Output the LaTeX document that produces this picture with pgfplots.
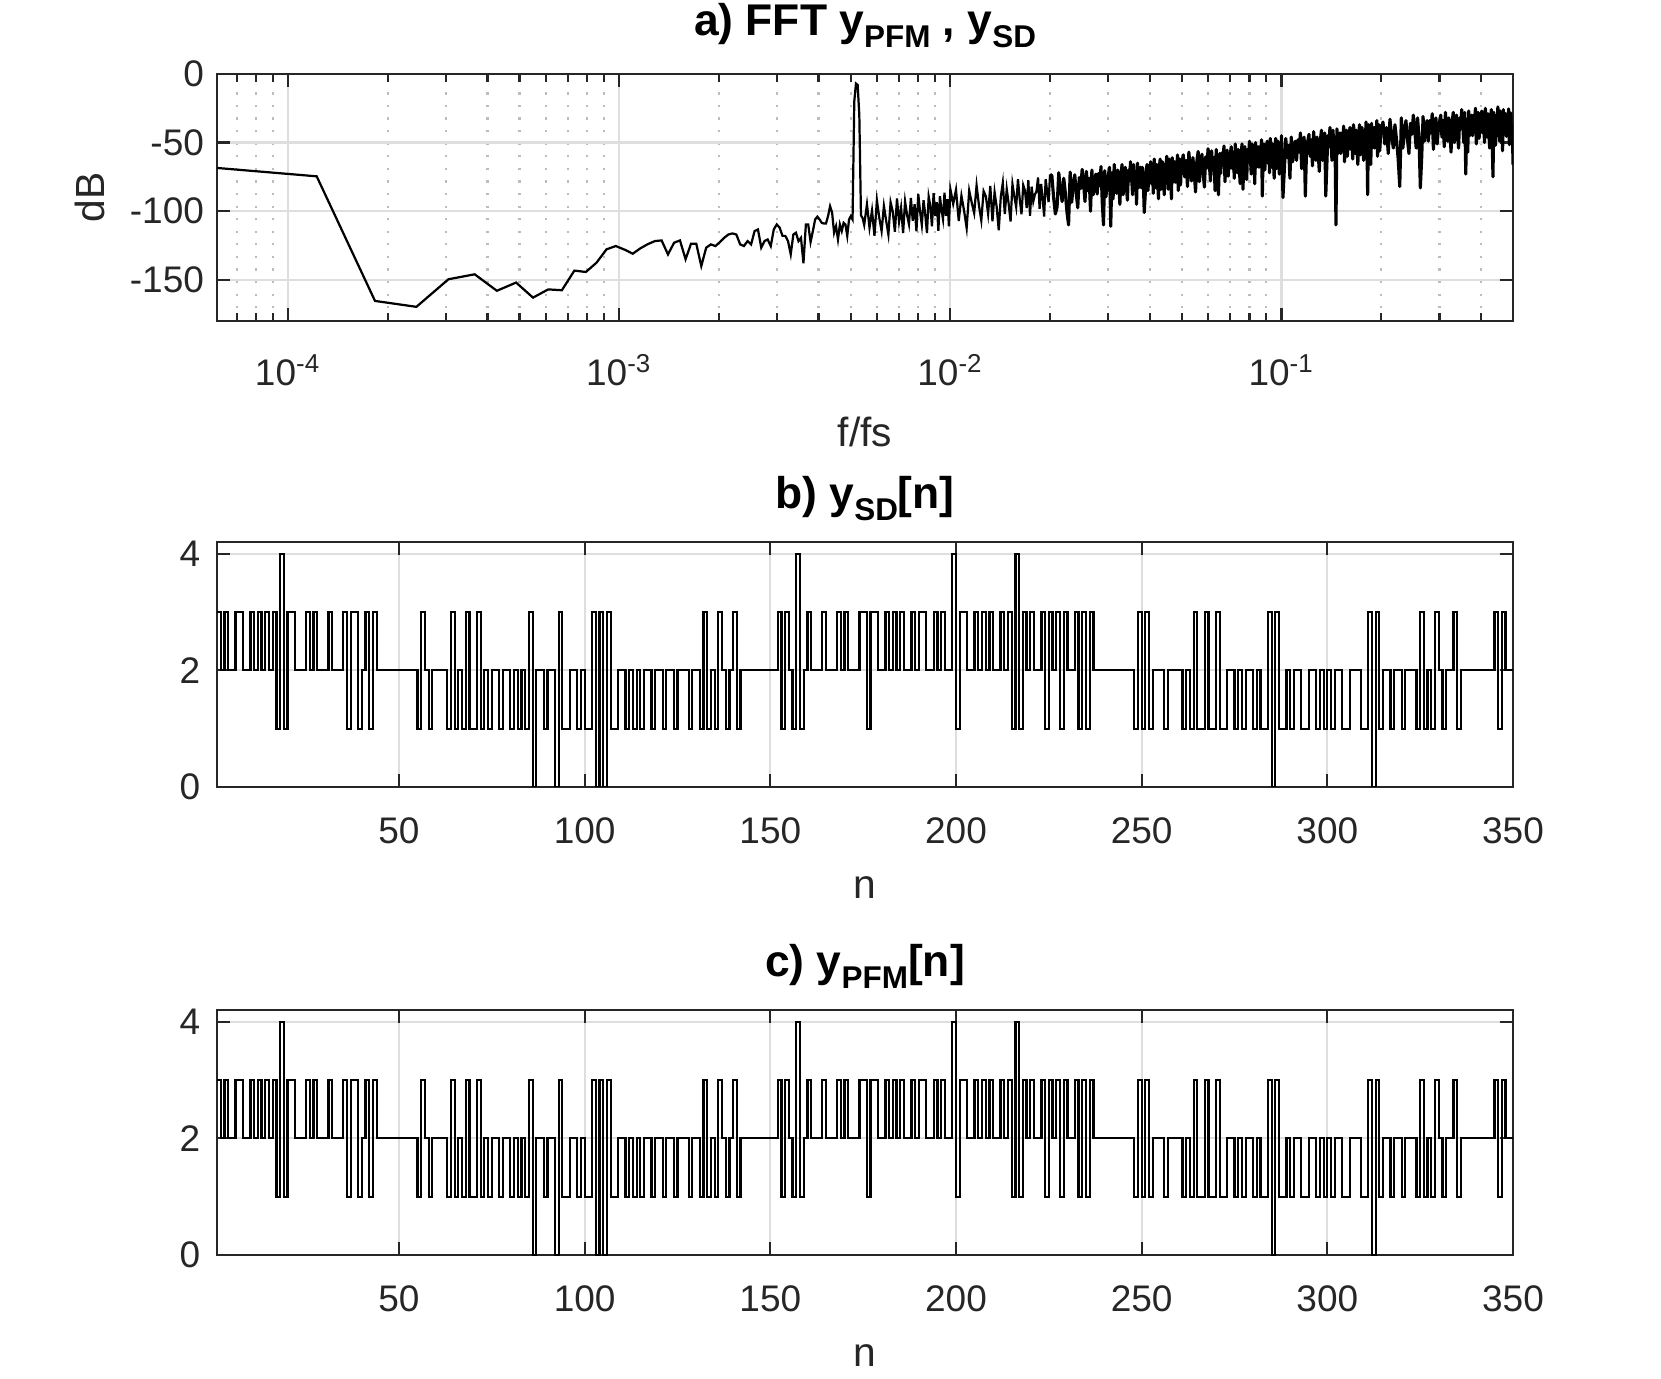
\documentclass[border=0pt]{standalone}
\usepackage{fontspec}
\setmainfont{Liberation Sans}
\usepackage{pgfplots}
\usepackage{pgfplotstable}
\pgfplotsset{compat=1.18}

\definecolor{axcol}{HTML}{262626}
\definecolor{gridcol}{HTML}{DEDEDE}
\definecolor{mgridcol}{HTML}{BDBDBD}

\newcommand{\sub}[1]{\raisebox{-3.2pt}{\fontsize{8.5}{9}\selectfont #1}}

% y_SD[n] = y_PFM[n], n = 1..350
\pgfplotstableread[row sep=\\]{
n v\\
1 3\\ 2 2\\ 3 3\\ 4 2\\ 5 2\\ 6 3\\ 7 3\\ 8 2\\ 9 2\\ 10 3\\
11 2\\ 12 3\\ 13 2\\ 14 3\\ 15 2\\ 16 3\\ 17 1\\ 18 4\\ 19 1\\ 20 3\\
21 3\\ 22 2\\ 23 2\\ 24 2\\ 25 3\\ 26 2\\ 27 3\\ 28 2\\ 29 2\\ 30 2\\
31 3\\ 32 2\\ 33 2\\ 34 2\\ 35 3\\ 36 1\\ 37 3\\ 38 3\\ 39 1\\ 40 2\\
41 3\\ 42 1\\ 43 3\\ 44 2\\ 45 2\\ 46 2\\ 47 2\\ 48 2\\ 49 2\\ 50 2\\
51 2\\ 52 2\\ 53 2\\ 54 2\\ 55 1\\ 56 3\\ 57 2\\ 58 1\\ 59 2\\ 60 2\\
61 2\\ 62 2\\ 63 1\\ 64 3\\ 65 1\\ 66 2\\ 67 1\\ 68 3\\ 69 1\\ 70 1\\
71 3\\ 72 1\\ 73 2\\ 74 1\\ 75 2\\ 76 2\\ 77 1\\ 78 2\\ 79 2\\ 80 1\\
81 2\\ 82 1\\ 83 2\\ 84 1\\ 85 3\\ 86 0\\ 87 2\\ 88 2\\ 89 1\\ 90 2\\
91 2\\ 92 0\\ 93 3\\ 94 1\\ 95 1\\ 96 2\\ 97 2\\ 98 1\\ 99 2\\ 100 1\\
101 1\\ 102 3\\ 103 0\\ 104 3\\ 105 0\\ 106 3\\ 107 1\\ 108 1\\ 109 2\\ 110 2\\
111 1\\ 112 2\\ 113 1\\ 114 2\\ 115 1\\ 116 2\\ 117 2\\ 118 1\\ 119 2\\ 120 2\\
121 1\\ 122 2\\ 123 2\\ 124 1\\ 125 2\\ 126 2\\ 127 2\\ 128 1\\ 129 2\\ 130 2\\
131 1\\ 132 3\\ 133 1\\ 134 2\\ 135 1\\ 136 3\\ 137 2\\ 138 1\\ 139 2\\ 140 3\\
141 1\\ 142 2\\ 143 2\\ 144 2\\ 145 2\\ 146 2\\ 147 2\\ 148 2\\ 149 2\\ 150 2\\
151 2\\ 152 3\\ 153 1\\ 154 3\\ 155 2\\ 156 1\\ 157 4\\ 158 1\\ 159 2\\ 160 3\\
161 2\\ 162 2\\ 163 2\\ 164 3\\ 165 2\\ 166 2\\ 167 2\\ 168 3\\ 169 2\\ 170 3\\
171 2\\ 172 2\\ 173 2\\ 174 3\\ 175 3\\ 176 1\\ 177 3\\ 178 3\\ 179 2\\ 180 2\\
181 3\\ 182 2\\ 183 3\\ 184 2\\ 185 3\\ 186 2\\ 187 2\\ 188 3\\ 189 2\\ 190 3\\
191 3\\ 192 2\\ 193 2\\ 194 3\\ 195 2\\ 196 3\\ 197 2\\ 198 2\\ 199 4\\ 200 1\\
201 3\\ 202 3\\ 203 2\\ 204 2\\ 205 3\\ 206 2\\ 207 3\\ 208 2\\ 209 3\\ 210 2\\
211 2\\ 212 3\\ 213 2\\ 214 3\\ 215 1\\ 216 4\\ 217 1\\ 218 3\\ 219 2\\ 220 3\\
221 2\\ 222 2\\ 223 3\\ 224 1\\ 225 3\\ 226 2\\ 227 3\\ 228 1\\ 229 3\\ 230 2\\
231 2\\ 232 3\\ 233 1\\ 234 3\\ 235 1\\ 236 3\\ 237 2\\ 238 2\\ 239 2\\ 240 2\\
241 2\\ 242 2\\ 243 2\\ 244 2\\ 245 2\\ 246 2\\ 247 2\\ 248 1\\ 249 3\\ 250 1\\
251 3\\ 252 1\\ 253 2\\ 254 2\\ 255 2\\ 256 1\\ 257 2\\ 258 2\\ 259 2\\ 260 2\\
261 1\\ 262 2\\ 263 1\\ 264 3\\ 265 1\\ 266 1\\ 267 3\\ 268 1\\ 269 1\\ 270 3\\
271 1\\ 272 1\\ 273 2\\ 274 2\\ 275 1\\ 276 2\\ 277 1\\ 278 2\\ 279 2\\ 280 1\\
281 2\\ 282 1\\ 283 1\\ 284 3\\ 285 0\\ 286 3\\ 287 1\\ 288 1\\ 289 2\\ 290 1\\
291 2\\ 292 2\\ 293 1\\ 294 1\\ 295 2\\ 296 2\\ 297 1\\ 298 2\\ 299 1\\ 300 2\\
301 1\\ 302 2\\ 303 2\\ 304 1\\ 305 1\\ 306 2\\ 307 2\\ 308 2\\ 309 1\\ 310 1\\
311 3\\ 312 0\\ 313 3\\ 314 1\\ 315 2\\ 316 2\\ 317 1\\ 318 2\\ 319 2\\ 320 1\\
321 2\\ 322 2\\ 323 2\\ 324 1\\ 325 3\\ 326 1\\ 327 2\\ 328 1\\ 329 3\\ 330 2\\
331 1\\ 332 2\\ 333 2\\ 334 3\\ 335 1\\ 336 2\\ 337 2\\ 338 2\\ 339 2\\ 340 2\\
341 2\\ 342 2\\ 343 2\\ 344 2\\ 345 3\\ 346 1\\ 347 3\\ 348 2\\ 349 2\\ 350 2\\
}\seqdata

% spectrum, f/fs and dB: low part (sparse bins)
\pgfplotstableread[row sep=\\]{
f db\\
6.1035e-5 -68.5\\ 1.2207e-4 -74.6\\ 1.8311e-4 -165.4\\ 2.4414e-4 -169.7\\ 3.0518e-4 -149.6\\ 3.6621e-4 -146\\ 4.2725e-4 -158\\ 4.8828e-4 -152\\ 5.4932e-4 -163\\ 6.1035e-4 -157\\
6.7139e-4 -157.6\\ 7.3242e-4 -143.3\\ 7.9346e-4 -144.3\\ 8.5449e-4 -137.5\\ 9.1553e-4 -127.8\\ 9.7656e-4 -125.4\\ 1.0376e-3 -128\\ 1.0986e-3 -131\\ 1.1597e-3 -127\\ 1.2207e-3 -124\\
1.2817e-3 -121.8\\ 1.3428e-3 -121.3\\ 1.4038e-3 -131.5\\ 1.4648e-3 -123\\ 1.5259e-3 -121.3\\ 1.5869e-3 -135\\ 1.6479e-3 -123.7\\ 1.7090e-3 -123.7\\ 1.7700e-3 -140\\ 1.8311e-3 -126.6\\
1.8921e-3 -124.2\\ 1.9531e-3 -125.4\\ 2.0142e-3 -122.5\\ 2.0752e-3 -119.4\\ 2.1362e-3 -117\\ 2.1973e-3 -116.2\\ 2.2583e-3 -117\\ 2.3193e-3 -124.2\\ 2.3804e-3 -125.4\\ 2.4414e-3 -121.8\\
2.5024e-3 -124.2\\ 2.5635e-3 -114.5\\ 2.6245e-3 -113.3\\ 2.6855e-3 -126.6\\ 2.7466e-3 -121.8\\ 2.8076e-3 -120.6\\ 2.8687e-3 -125.4\\ 2.9297e-3 -113.3\\ 2.9907e-3 -109.7\\ 3.0518e-3 -112\\
3.1128e-3 -118\\ 3.1738e-3 -118\\ 3.2349e-3 -121.8\\ 3.2959e-3 -131.5\\ 3.3569e-3 -117\\ 3.4180e-3 -115.7\\ 3.4790e-3 -121.8\\ 3.5400e-3 -119.4\\ 3.6011e-3 -138\\ 3.6621e-3 -109.7\\
3.7231e-3 -109.7\\ 3.7842e-3 -122.5\\ 3.8452e-3 -114.5\\ 3.9063e-3 -106\\ 3.9673e-3 -104\\ 4.0283e-3 -106\\ 4.0894e-3 -108.5\\ 4.1504e-3 -109\\ 4.2114e-3 -109\\ 4.2725e-3 -103.6\\
4.3335e-3 -96.4\\ 4.3945e-3 -101\\ 4.4556e-3 -115.7\\ 4.5166e-3 -111\\ 4.5776e-3 -120.6\\ 4.6387e-3 -109.7\\ 4.6997e-3 -114.5\\ 4.7607e-3 -108.5\\ 4.8218e-3 -109.7\\ 4.8828e-3 -118\\
4.9438e-3 -106\\ 5.0049e-3 -103.6\\ 5.0659e-3 -106\\ 5.1270e-3 -20\\ 5.1880e-3 -7\\ 5.2490e-3 -8\\ 5.3101e-3 -30\\ 5.3711e-3 -103\\ 5.4321e-3 -105\\ 5.4932e-3 -110\\
0.0056 -95\\ 0.0057 -112\\ 0.0058 -99.5\\ 0.0059 -118\\ 0.0060 -92\\ 0.0061 -104.7\\ 0.0062 -114.5\\ 0.0063 -96.2\\ 0.0064 -107\\ 0.0065 -117\\
0.0066 -93.5\\ 0.0067 -100.3\\ 0.0068 -115\\ 0.0069 -90.8\\ 0.0070 -107.6\\ 0.0071 -97.4\\ 0.0072 -116\\ 0.0073 -92.9\\ 0.0074 -102.7\\ 0.0075 -109.5\\
0.0076 -90.3\\ 0.0077 -107\\ 0.0078 -95\\ 0.0079 -114.7\\ 0.0080 -87.5\\ 0.0081 -100.3\\ 0.0082 -110\\ 0.0083 -92\\ 0.0084 -102.7\\ 0.0085 -116\\
0.0086 -89.4\\ 0.0087 -96.2\\ 0.0088 -111\\ 0.0089 -86.8\\ 0.0090 -103.6\\ 0.0091 -93.4\\ 0.0092 -114.3\\ 0.0093 -89.1\\ 0.0094 -98.9\\ 0.0095 -105.7\\
0.0096 -86.6\\ 0.0097 -103.4\\ 0.0098 -91.3\\ 0.0099 -111.1\\ 0.0100 -84\\
0.0102 -94.7\\ 0.0104 -84.4\\ 0.0106 -107.1\\ 0.0108 -88.8\\ 0.0110 -99.6\\ 0.0112 -112.3\\ 0.0114 -85\\ 0.0116 -93.7\\ 0.0118 -101.4\\ 0.0120 -81.2\\
0.0122 -95.9\\ 0.0124 -106.7\\ 0.0126 -85.4\\ 0.0128 -89.2\\ 0.0130 -101.9\\ 0.0132 -81.7\\ 0.0134 -107.4\\ 0.0136 -86.2\\ 0.0138 -96.9\\ 0.0140 -114\\
0.0142 -89.5\\ 0.0144 -79.3\\ 0.0146 -102.1\\ 0.0148 -83.9\\ 0.0150 -94.7\\ 0.0152 -107.5\\ 0.0154 -80.3\\ 0.0156 -89.1\\ 0.0158 -96.9\\ 0.0160 -76.7\\
0.0162 -91.5\\ 0.0164 -102.3\\ 0.0166 -81.1\\ 0.0168 -84.9\\ 0.0170 -97.7\\ 0.0172 -77.5\\ 0.0174 -103.3\\ 0.0176 -82.1\\ 0.0178 -92.9\\ 0.0180 -87.8\\
0.0182 -85.6\\ 0.0184 -75.5\\ 0.0186 -98.3\\ 0.0188 -80.2\\ 0.0190 -91\\ 0.0192 -103.9\\ 0.0194 -76.7\\ 0.0196 -85.6\\ 0.0198 -93.4\\ 0.0200 -73.2\\
}\fftlow

% spectrum: dense part
\pgfplotstableread[row sep=\\]{
f db\\
0.0200 -73.2\\
0.02025 -74\\ 0.0205 -90\\ 0.02075 -102\\ 0.021 -97\\ 0.02125 -72\\ 0.0215 -84\\ 0.02175 -93\\ 0.022 -76\\ 0.02225 -87\\ 0.0225 -101\\
0.02275 -110\\ 0.023 -71.5\\ 0.02325 -93.5\\ 0.0235 -80.5\\ 0.02375 -73.5\\ 0.024 -87.5\\ 0.02425 -97.5\\ 0.0245 -75.5\\ 0.02475 -83.5\\ 0.025 -69.5\\
0.02525 -80\\ 0.0255 -93\\ 0.02575 -71\\ 0.026 -85\\ 0.02625 -76\\ 0.0265 -100\\ 0.02675 -70\\ 0.027 -88\\ 0.02725 -78\\ 0.0275 -73\\
0.02775 -87.5\\ 0.028 -72.5\\ 0.02825 -81.5\\ 0.0285 -67.5\\ 0.02875 -93.5\\ 0.029 -110\\ 0.02925 -70.5\\ 0.0295 -89.5\\ 0.02975 -79.5\\ 0.030 -73.5\\
0.03025 -68\\ 0.0305 -111\\ 0.03075 -72\\ 0.031 -91\\ 0.03125 -66\\ 0.0315 -78\\ 0.03175 -87\\ 0.032 -70\\ 0.03225 -81\\ 0.0325 -95\\
0.03275 -73\\ 0.033 -66\\ 0.03325 -88\\ 0.0335 -75\\ 0.03375 -68\\ 0.034 -82\\ 0.03425 -92\\ 0.0345 -70\\ 0.03475 -78\\ 0.035 -64\\
0.03525 -75\\ 0.0355 -88\\ 0.03575 -66\\ 0.036 -80\\ 0.03625 -71\\ 0.0365 -95\\ 0.03675 -65\\ 0.037 -83\\ 0.03725 -73\\ 0.0375 -68\\
0.03775 -83\\ 0.038 -68\\ 0.03825 -77\\ 0.0385 -101\\ 0.03875 -89\\ 0.039 -71\\ 0.03925 -66\\ 0.0395 -85\\ 0.03975 -75\\ 0.040 -69\\
0.04025 -64\\ 0.0405 -80\\ 0.04075 -68\\ 0.041 -87\\ 0.04125 -62\\ 0.0415 -74\\ 0.04175 -83\\ 0.042 -66\\ 0.04225 -77\\ 0.0425 -91\\
0.04275 -69\\ 0.043 -62\\ 0.04325 -84\\ 0.0435 -71\\ 0.04375 -64\\ 0.044 -78\\ 0.04425 -88\\ 0.0445 -66\\ 0.04475 -74\\ 0.045 -60\\
0.04525 -71\\ 0.0455 -84\\ 0.04575 -62\\ 0.046 -76\\ 0.04625 -67\\ 0.0465 -91\\ 0.04675 -61\\ 0.047 -79\\ 0.04725 -69\\ 0.0475 -64\\
0.04775 -79\\ 0.048 -64\\ 0.04825 -73\\ 0.0485 -59\\ 0.04875 -85\\ 0.049 -67\\ 0.04925 -62\\ 0.0495 -81\\ 0.04975 -71\\ 0.050 -65\\
0.0505 -59\\ 0.051 -75\\ 0.0515 -63\\ 0.052 -82\\ 0.0525 -57\\ 0.053 -69\\ 0.0535 -78\\ 0.054 -61\\ 0.0545 -72\\ 0.055 -86\\
0.0555 -63.5\\ 0.056 -56.5\\ 0.0565 -78.5\\ 0.057 -65.5\\ 0.0575 -58.5\\ 0.058 -72.5\\ 0.0585 -82.5\\ 0.059 -60.5\\ 0.0595 -68.5\\ 0.060 -54.5\\
0.0605 -65\\ 0.061 -78\\ 0.0615 -56\\ 0.062 -70\\ 0.0625 -61\\ 0.063 -85\\ 0.0635 -55\\ 0.064 -73\\ 0.0645 -88\\ 0.065 -58\\
0.0655 -72.5\\ 0.066 -57.5\\ 0.0665 -66.5\\ 0.067 -52.5\\ 0.0675 -78.5\\ 0.068 -60.5\\ 0.0685 -55.5\\ 0.069 -74.5\\ 0.0695 -64.5\\ 0.070 -58.5\\
0.0705 -53\\ 0.071 -69\\ 0.0715 -57\\ 0.072 -76\\ 0.0725 -51\\ 0.073 -63\\ 0.0735 -72\\ 0.074 -55\\ 0.0745 -66\\ 0.075 -80\\
0.0755 -58\\ 0.076 -51\\ 0.0765 -84\\ 0.077 -60\\ 0.0775 -53\\ 0.078 -67\\ 0.0785 -77\\ 0.079 -55\\ 0.0795 -63\\ 0.080 -49\\
0.0805 -60\\ 0.081 -73\\ 0.0815 -51\\ 0.082 -65\\ 0.0825 -56\\ 0.083 -80\\ 0.0835 -50\\ 0.084 -68\\ 0.0845 -58\\ 0.085 -53\\
0.0855 -68\\ 0.086 -53\\ 0.0865 -62\\ 0.087 -48\\ 0.0875 -89\\ 0.088 -56\\ 0.0885 -51\\ 0.089 -70\\ 0.0895 -60\\ 0.090 -54\\
0.0905 -49\\ 0.091 -65\\ 0.0915 -53\\ 0.092 -72\\ 0.0925 -47\\ 0.093 -59\\ 0.0935 -68\\ 0.094 -51\\ 0.0945 -62\\ 0.095 -76\\
0.0955 -54\\ 0.096 -47\\ 0.0965 -69\\ 0.097 -56\\ 0.0975 -49\\ 0.098 -63\\ 0.0985 -73\\ 0.099 -51\\ 0.0995 -59\\ 0.100 -45\\
0.101 -90\\ 0.102 -69\\ 0.103 -47\\ 0.104 -61\\ 0.105 -52\\ 0.106 -76\\ 0.107 -46\\ 0.108 -64\\ 0.109 -54\\ 0.110 -49\\
0.111 -63\\ 0.112 -48\\ 0.113 -57\\ 0.114 -43\\ 0.115 -69\\ 0.116 -51\\ 0.117 -46\\ 0.118 -89\\ 0.119 -55\\ 0.120 -49\\
0.121 -44\\ 0.122 -60\\ 0.123 -48\\ 0.124 -67\\ 0.125 -42\\ 0.126 -54\\ 0.127 -63\\ 0.128 -46\\ 0.129 -57\\ 0.130 -71\\
0.131 -48\\ 0.132 -41\\ 0.133 -63\\ 0.134 -50\\ 0.135 -43\\ 0.136 -89\\ 0.137 -67\\ 0.138 -45\\ 0.139 -53\\ 0.140 -39\\
0.141 -50\\ 0.142 -63\\ 0.143 -41\\ 0.144 -55\\ 0.145 -46\\ 0.146 -110\\ 0.147 -40\\ 0.148 -58\\ 0.149 -48\\ 0.150 -43\\
0.151 -58\\ 0.152 -43\\ 0.153 -52\\ 0.154 -38\\ 0.155 -64\\ 0.156 -46\\ 0.157 -41\\ 0.158 -60\\ 0.159 -50\\ 0.160 -44\\
0.161 -39\\ 0.162 -55\\ 0.163 -43\\ 0.164 -62\\ 0.165 -37\\ 0.166 -49\\ 0.167 -58\\ 0.168 -41\\ 0.169 -52\\ 0.170 -66\\
0.171 -44\\ 0.172 -37\\ 0.173 -59\\ 0.174 -46\\ 0.175 -39\\ 0.176 -53\\ 0.177 -63\\ 0.178 -41\\ 0.179 -49\\ 0.180 -35\\
0.181 -46\\ 0.182 -88\\ 0.183 -37\\ 0.184 -51\\ 0.185 -42\\ 0.186 -66\\ 0.187 -36\\ 0.188 -54\\ 0.189 -44\\ 0.190 -39\\
0.191 -54\\ 0.192 -39\\ 0.193 -48\\ 0.194 -34\\ 0.195 -60\\ 0.196 -42\\ 0.197 -37\\ 0.198 -56\\ 0.199 -46\\ 0.200 -40\\
0.2025 -35\\ 0.205 -51\\ 0.2075 -39\\ 0.210 -58\\ 0.2125 -33\\ 0.215 -45\\ 0.2175 -54\\ 0.220 -37\\ 0.2225 -48\\ 0.225 -62\\
0.2275 -82\\ 0.230 -32\\ 0.2325 -54\\ 0.235 -41\\ 0.2375 -34\\ 0.240 -48\\ 0.2425 -58\\ 0.245 -36\\ 0.2475 -44\\ 0.250 -30\\
0.2525 -41\\ 0.255 -54\\ 0.2575 -32\\ 0.260 -46\\ 0.2625 -83\\ 0.265 -61\\ 0.2675 -31\\ 0.270 -49\\ 0.2725 -39\\ 0.275 -34\\
0.2775 -49\\ 0.280 -34\\ 0.2825 -43\\ 0.285 -29\\ 0.2875 -55\\ 0.290 -37\\ 0.2925 -32\\ 0.295 -51\\ 0.2975 -41\\ 0.300 -35\\
0.3025 -30\\ 0.305 -46\\ 0.3075 -34\\ 0.310 -53\\ 0.3125 -28\\ 0.315 -40\\ 0.3175 -49\\ 0.320 -32\\ 0.3225 -43\\ 0.325 -57\\
0.3275 -35\\ 0.330 -28\\ 0.3325 -50\\ 0.335 -37\\ 0.3375 -30\\ 0.340 -44\\ 0.3425 -54\\ 0.345 -32\\ 0.3475 -40\\ 0.350 -26\\
0.3525 -37\\ 0.355 -50\\ 0.3575 -28\\ 0.360 -73\\ 0.3625 -33\\ 0.365 -57\\ 0.3675 -27\\ 0.370 -45\\ 0.3725 -35\\ 0.375 -30\\
0.3775 -45\\ 0.380 -30\\ 0.3825 -39\\ 0.385 -25\\ 0.3875 -51\\ 0.390 -33\\ 0.3925 -28\\ 0.395 -47\\ 0.3975 -37\\ 0.400 -31\\
0.4025 -27\\ 0.405 -43\\ 0.4075 -31\\ 0.410 -50\\ 0.4125 -25\\ 0.415 -37\\ 0.4175 -46\\ 0.420 -29\\ 0.4225 -40\\ 0.425 -54\\
0.4275 -33\\ 0.430 -26\\ 0.4325 -48\\ 0.435 -75\\ 0.4375 -28\\ 0.440 -42\\ 0.4425 -52\\ 0.445 -30\\ 0.4475 -38\\ 0.450 -24\\
0.4525 -36\\ 0.455 -49\\ 0.4575 -27\\ 0.460 -41\\ 0.4625 -32\\ 0.465 -56\\ 0.4675 -26\\ 0.470 -44\\ 0.4725 -34\\ 0.475 -29\\
0.4775 -45.5\\ 0.480 -30.5\\ 0.4825 -39.5\\ 0.485 -25.5\\ 0.4875 -51.5\\ 0.490 -33.5\\ 0.4925 -28.5\\ 0.495 -47.5\\ 0.4975 -37.5\\ 0.500 -66\\
}\ffthigh

\pgfplotsset{
  every axis title shift=0pt,
  panel/.style={
    scale only axis, anchor=south west,
    axis line style={draw=axcol, line width=0.7pt},
    tick style={draw=axcol, line width=0.6pt},
    tick align=inside,
    major tick length=3.6pt, minor tick length=2.2pt,
    major grid style={draw=gridcol, line width=0.6pt},
    minor grid style={draw=mgridcol, line width=0.6pt, dash pattern=on 0.6pt off 2.8pt},
    tick label style={font=\fontsize{10}{12}\selectfont, color=axcol},
    label style={font=\fontsize{11}{13}\selectfont, color=axcol},
    title style={font=\fontsize{12}{14}\selectfont\bfseries, color=black,
      at={(axis description cs:0.5,1)}, anchor=base},
    /pgf/number format/assume math mode=true,
  },
  steps/.style={
    panel, width=350.27pt, height=66.22pt,
    xmin=1, xmax=350, ymin=0, ymax=4.2,
    xtick={50,100,...,350}, ytick={0,2,4},
    grid=major,
    xticklabel style={yshift=-4.8pt},
    yticklabel style={xshift=-1pt},
    xlabel={n},
    xlabel style={at={(axis description cs:0.5,-0.412)}, anchor=center},
    title style={yshift=9.1pt},
  },
}

\begin{document}
\begin{tikzpicture}
\useasboundingbox (0,0) rectangle (448.92pt,372.43pt);

\begin{axis}[panel, at={(58.65pt,285.68pt)}, width=350.27pt, height=66.76pt,
  xmode=log, xmin=6.1035e-5, xmax=0.5, ymin=-180, ymax=0,
  xtick={1e-4,1e-3,1e-2,1e-1},
  xticklabels={10\textsuperscript{-4},10\textsuperscript{-3},10\textsuperscript{-2},10\textsuperscript{-1}},
  minor xtick={7e-5,8e-5,9e-5,2e-4,3e-4,4e-4,5e-4,6e-4,7e-4,8e-4,9e-4,
    2e-3,3e-3,4e-3,5e-3,6e-3,7e-3,8e-3,9e-3,0.02,0.03,0.04,0.05,0.06,0.07,0.08,0.09,0.2,0.3,0.4},
  ytick={-150,-100,-50,0},
  xmajorgrids, xminorgrids, ymajorgrids,
  xticklabel style={yshift=-5.5pt},
  xlabel={f/fs}, ylabel={dB},
  xlabel style={at={(axis description cs:0.5,-0.449)}, anchor=center},
  ylabel style={at={(axis description cs:-0.098,0.5)}, anchor=center},
  title={a) FFT y\sub{PFM} , y\sub{SD}},
  title style={yshift=10.3pt},
]
\addplot[black, line width=0.6pt] table[x=f, y=db] {\fftlow};
\addplot[black, line width=0.85pt, line join=round] table[x=f, y=db] {\ffthigh};
\end{axis}

\begin{axis}[steps, at={(58.65pt,159.73pt)},
  title={b) y\sub{SD}[n]}]
\addplot[const plot, black, line width=0.6pt] table[x=n, y=v] {\seqdata};
\end{axis}

\begin{axis}[steps, at={(58.65pt,33.24pt)},
  title={c) y\sub{PFM}[n]}]
\addplot[const plot, black, line width=0.6pt] table[x=n, y=v] {\seqdata};
\end{axis}

\end{tikzpicture}
\end{document}
